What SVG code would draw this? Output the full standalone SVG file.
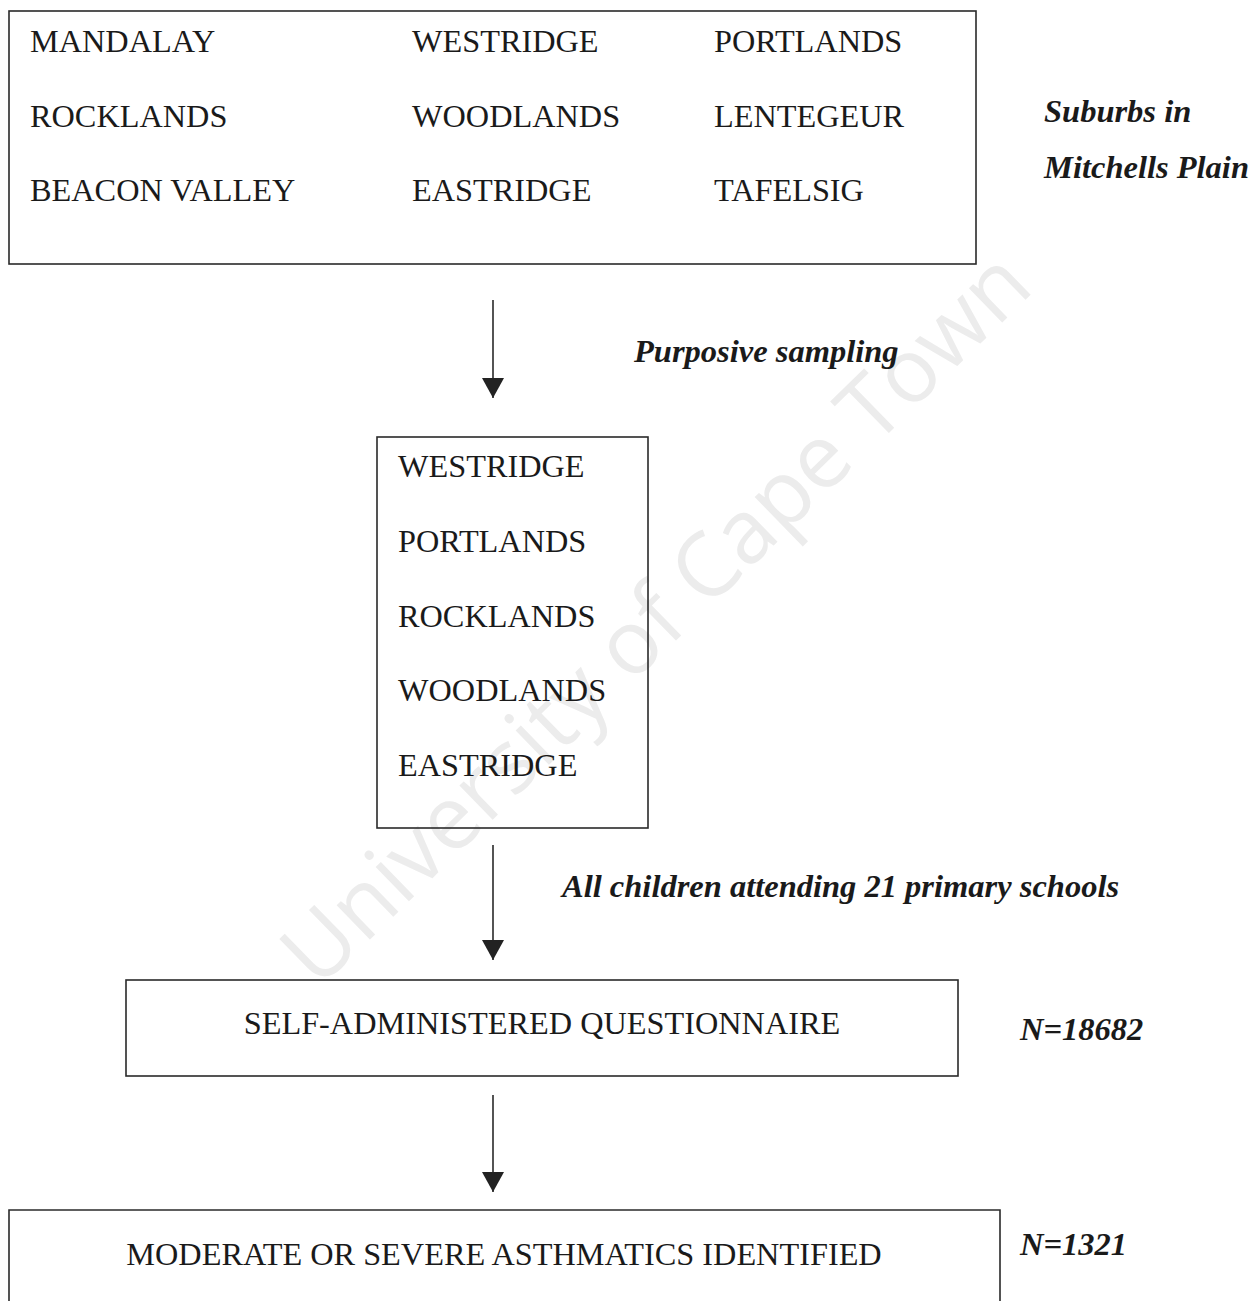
<svg xmlns="http://www.w3.org/2000/svg" width="1252" height="1301" viewBox="0 0 1252 1301">
<style>
.box{fill:none;stroke:#2a2a2a;stroke-width:1.6}
.t{font-family:"Liberation Serif","Times New Roman",serif;font-size:32.3px;fill:#1a1a1a}
.lbl{font-family:"Liberation Serif","Times New Roman",serif;font-size:32.5px;font-weight:bold;font-style:italic;fill:#1a1a1a}
.wm{font-family:"Open Sans","Liberation Sans",sans-serif;font-size:89px;fill:#ececec}
.conn{stroke:#2a2a2a;stroke-width:1.6;fill:none}
</style>
<defs>
<marker id="ah" viewBox="0 0 20 22" refX="20" refY="11" markerWidth="20" markerHeight="22" markerUnits="userSpaceOnUse" orient="auto">
<path d="M0,0 L20,11 L0,22 Z" fill="#222"/>
</marker>
</defs>
<rect width="1252" height="1301" fill="#ffffff"/>
<text class="wm" x="318" y="990" transform="rotate(-44.3 318 990)">University of Cape Town</text>
<g id="suburbs">
<rect class="box" x="9" y="11" width="967" height="253"/>
<text class="t" x="30" y="52">MANDALAY</text>
<text class="t" x="412" y="52">WESTRIDGE</text>
<text class="t" x="714" y="52">PORTLANDS</text>
<text class="t" x="30" y="127">ROCKLANDS</text>
<text class="t" x="412" y="127">WOODLANDS</text>
<text class="t" x="714" y="127">LENTEGEUR</text>
<text class="t" x="30" y="201">BEACON VALLEY</text>
<text class="t" x="412" y="201">EASTRIDGE</text>
<text class="t" x="714" y="201">TAFELSIG</text>
</g>
<g id="suburbs-label">
<text class="lbl" x="1044" y="122">Suburbs in</text>
<text class="lbl" x="1044" y="178">Mitchells Plain</text>
</g>
<g id="selected">
<rect class="box" x="377" y="437" width="271" height="391"/>
<text class="t" x="398" y="477">WESTRIDGE</text>
<text class="t" x="398" y="552">PORTLANDS</text>
<text class="t" x="398" y="627">ROCKLANDS</text>
<text class="t" x="398" y="701">WOODLANDS</text>
<text class="t" x="398" y="776">EASTRIDGE</text>
</g>
<g id="questionnaire">
<rect class="box" x="126" y="980" width="832" height="96"/>
<text class="t" x="542" y="1034" text-anchor="middle">SELF-ADMINISTERED QUESTIONNAIRE</text>
<text class="lbl" x="1020" y="1040">N=18682</text>
</g>
<g id="asthmatics">
<path class="box" d="M9,1305 L9,1210 L1000,1210 L1000,1305"/>
<text class="t" x="504" y="1265" text-anchor="middle">MODERATE OR SEVERE ASTHMATICS IDENTIFIED</text>
<text class="lbl" x="1020" y="1255">N=1321</text>
</g>
<g id="connectors">
<line class="conn" x1="493" y1="300" x2="493" y2="398" marker-end="url(#ah)"/>
<line class="conn" x1="493" y1="845" x2="493" y2="960" marker-end="url(#ah)"/>
<line class="conn" x1="493" y1="1095" x2="493" y2="1192" marker-end="url(#ah)"/>
<text class="lbl" x="634" y="362">Purposive sampling</text>
<text class="lbl" x="562" y="897">All children attending 21 primary schools</text>
</g>
</svg>
